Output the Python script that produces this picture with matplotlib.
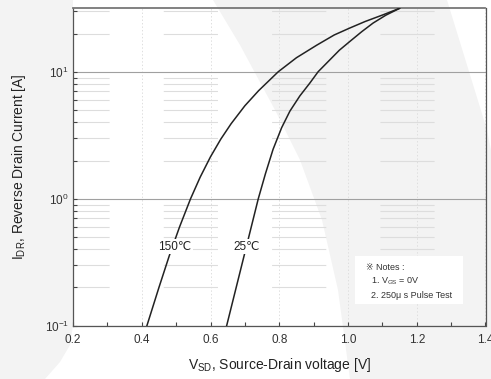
import matplotlib
matplotlib.use("Agg")
import matplotlib.pyplot as plt
import matplotlib.ticker as mticker
from matplotlib.patches import Polygon
import numpy as np

# data (V_SD [V], I_DR [A])
v_150 = [0.415, 0.45, 0.48, 0.51, 0.542, 0.57, 0.60, 0.63, 0.66, 0.70, 0.74,
         0.797, 0.85, 0.909, 0.96, 1.005, 1.05, 1.102, 1.15]
i_150 = [0.1, 0.2, 0.355, 0.6, 1.0, 1.48, 2.14, 2.95, 3.9, 5.4, 7.1,
         10.0, 12.9, 16.2, 19.5, 22.1, 24.9, 28.1, 31.6]

v_25 = [0.647, 0.693, 0.739, 0.76, 0.782, 0.807, 0.831, 0.86, 0.889, 0.913,
        0.947, 0.975, 1.005, 1.04, 1.073, 1.11, 1.15]
i_25 = [0.1, 0.316, 1.0, 1.58, 2.45, 3.63, 4.9, 6.46, 8.15, 10.0,
        12.4, 14.8, 17.3, 20.7, 24.2, 27.9, 31.6]

x_ticks = [0.2, 0.4, 0.6, 0.8, 1.0, 1.2, 1.4]
curve_labels = ["150\u2103", "25\u2103"]
label_pos = [(0.497, 0.42), (0.706, 0.42)]
notes = ["\u203b Notes :", "  1. V$_{\\mathdefault{GS}}$ = 0V", "  2. 250\u03bc s Pulse Test"]

plt.rcParams["font.family"] = ["Liberation Sans", "DejaVu Sans"]
plt.rcParams["lines.scale_dashes"] = False

W, H = 491, 379
fig = plt.figure(figsize=(W / 100, H / 100), dpi=100)
fig.patch.set_facecolor("#f3f3f3")


def px(pts):
    return [(x / W, 1 - y / H) for x, y in pts]


# decorative white swooshes of the background
swoosh = [(73, 0), (213, 0), (240, 45), (275, 110), (300, 160), (322, 220),
          (338, 290), (350, 379), (45, 379), (60, 362), (70, 345), (73, 325)]
corner = [(447, 0), (491, 0), (491, 150), (487, 130), (467, 65)]
for pts in (swoosh, corner):
    fig.patches.append(Polygon(px(pts), closed=True, facecolor="white",
                               edgecolor="none", transform=fig.transFigure, zorder=-5))

ax = fig.add_axes([73 / W, 1 - 325.7 / H, (485.5 - 73) / W, (325.7 - 8.3) / H])
ax.set_zorder(2)
ax.set_facecolor("none")
ax.set_yscale("log")
ax.set_xlim(0.2, 1.4)
ax.set_ylim(0.1, 10 ** 1.5)

ax.set_xticks(x_ticks)
ax.xaxis.set_major_formatter(mticker.FormatStrFormatter("%.1f"))
ax.xaxis.set_minor_locator(mticker.MultipleLocator(0.1))
ax.yaxis.set_major_locator(mticker.LogLocator(base=10))
ax.yaxis.set_minor_locator(mticker.LogLocator(base=10, subs=np.arange(2, 10)))
ax.yaxis.set_minor_formatter(mticker.NullFormatter())

ax.tick_params(which="both", direction="in", length=3, width=0.8, color="#444444",
               labelsize=8.5, labelcolor="#333333")
ax.tick_params(axis="x", pad=6)
ax.tick_params(axis="y", pad=3)

# grid: solid decades, long-dash minors, faint dotted verticals
ax.yaxis.grid(True, which="major", color="#a0a0a0", lw=0.8, ls="-")
ax.yaxis.grid(True, which="minor", color="#dddddd", lw=0.8, ls=(13, (39, 39)))
ax.xaxis.grid(True, which="major", color="#dedede", lw=0.7, ls=(0, (1, 1.5)))
ax.set_axisbelow(True)

for s in ax.spines.values():
    s.set_color("#555555")
    s.set_linewidth(0.9)
ax.spines["top"].set_color("#777777")
ax.spines["top"].set_linewidth(1.3)

ax.plot(v_150, i_150, color="#222222", lw=1.1, zorder=3)
ax.plot(v_25, i_25, color="#222222", lw=1.1, zorder=3)

for txt, (x, y) in zip(curve_labels, label_pos):
    ax.text(x, y, txt, fontsize=8.5, color="#222222", ha="center", va="center",
            bbox=dict(facecolor="white", edgecolor="none", pad=1), zorder=4)

# notes box
ax.add_patch(plt.Rectangle((355 / W, 1 - 304 / H), 108 / W, 48 / H, transform=fig.transFigure,
                           facecolor="white", edgecolor="none", zorder=4))
for k, line in enumerate(notes):
    ax.text(366 / W, 1 - (268 + 13.5 * k) / H, line, fontsize=6.5, color="#333333",
            va="center", ha="left", zorder=5, transform=fig.transFigure)

ax.set_xlabel("V$_{\\mathdefault{SD}}$, Source-Drain voltage [V]", fontsize=10,
              color="#222222", labelpad=7)
ax.set_ylabel("I$_{\\mathdefault{DR}}$, Reverse Drain Current [A]", fontsize=10,
              color="#222222", labelpad=12)

fig.savefig("out.png", dpi=100, facecolor=fig.get_facecolor())
